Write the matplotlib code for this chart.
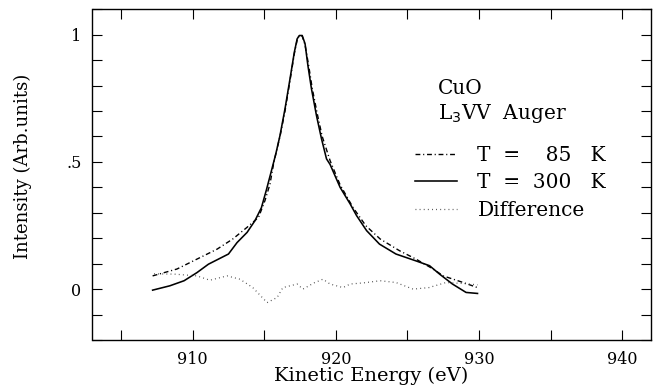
import matplotlib
matplotlib.use("Agg")
import matplotlib.pyplot as plt
from matplotlib.ticker import MultipleLocator, FixedLocator, FixedFormatter

# ---- data ----
e85 = [907.2, 908.9, 910.3, 911.7, 912.8, 913.8, 914.6, 915.05, 915.4, 915.65,
       915.8, 916.1, 916.45, 916.8, 917.1, 917.3, 917.45, 917.65, 917.85, 918.1,
       918.35, 918.7, 919.05, 919.6, 920.3, 921.2, 922.1, 923.1, 924.45, 925.6,
       926.8, 927.5, 928.9, 929.9]
i85 = [0.052, 0.079, 0.118, 0.157, 0.197, 0.243, 0.282, 0.348, 0.413, 0.492,
       0.53, 0.60, 0.70, 0.82, 0.925, 0.98, 0.997, 0.995, 0.96, 0.88,
       0.79, 0.69, 0.60, 0.505, 0.41, 0.321, 0.249, 0.197, 0.151, 0.118,
       0.079, 0.052, 0.026, 0.006]

e300 = [907.2, 908.4, 909.4, 910.3, 911.1, 911.8, 912.5, 913.1, 913.8, 914.35,
        914.8, 915.15, 915.5, 915.8, 916.1, 916.45, 916.8, 917.1, 917.3, 917.45,
        917.65, 917.85, 918.05, 918.3, 918.65, 919.0, 919.35, 919.6, 920.3, 921.0,
        921.45, 922.15, 923.05, 924.2, 925.6, 926.55, 927.25, 928.15, 929.1, 929.9]
i300 = [-0.004, 0.013, 0.033, 0.065, 0.098, 0.118, 0.138, 0.183, 0.223, 0.269,
        0.32, 0.39, 0.465, 0.53, 0.604, 0.709, 0.827, 0.931, 0.984, 0.997,
        0.997, 0.965, 0.879, 0.787, 0.682, 0.591, 0.512, 0.49, 0.40, 0.335,
        0.289, 0.23, 0.177, 0.138, 0.111, 0.092, 0.059, 0.02, -0.013, -0.017]

ediff = [907.3, 908.7, 910.3, 911.2, 912.4, 913.3, 914.2, 915.2, 915.9, 916.3,
         917.3, 917.7, 918.5, 919.1, 919.6, 920.5, 921.0, 922.0, 923.1, 924.2,
         925.4, 926.5, 927.7, 928.9, 929.9]
idiff = [0.06, 0.059, 0.052, 0.035, 0.052, 0.039, 0.006, -0.053, -0.033, 0.006,
         0.02, 0.0, 0.025, 0.039, 0.02, 0.006, 0.02, 0.025, 0.033, 0.026,
         0.0, 0.006, 0.026, 0.022, 0.017]

xticks = [910, 920, 930, 940]
xticklabels = ["910", "920", "930", "940"]
yticks = [0, 0.5, 1]
yticklabels = ["0", ".5", "1"]

labels = ["T  =    85   K", "T  =  300   K", "Difference"]

plt.rcParams["font.family"] = ["DejaVu Serif"]

fig = plt.figure(figsize=(6.56, 3.89), dpi=100)
ax = fig.add_axes([92.5 / 656, 49 / 389, 558.2 / 656, 330.7 / 389])

l1, = ax.plot(e85, i85, color="black", lw=1.0, linestyle=(0, (3.5, 2.0, 0.8, 2.0)))
l2, = ax.plot(e300, i300, color="black", lw=1.15, linestyle="-")
l3, = ax.plot(ediff, idiff, color="#444444", lw=0.9, linestyle=(0, (0.7, 2.6)))

ax.set_xlim(903, 942)
ax.set_ylim(-0.2, 1.1)

ax.xaxis.set_major_locator(FixedLocator(xticks))
ax.xaxis.set_major_formatter(FixedFormatter(xticklabels))
ax.xaxis.set_minor_locator(MultipleLocator(5))
ax.yaxis.set_major_locator(FixedLocator(yticks))
ax.yaxis.set_major_formatter(FixedFormatter(yticklabels))
ax.yaxis.set_minor_locator(MultipleLocator(0.1))

ax.tick_params(which="both", direction="in", top=True, right=True,
               length=7.5, width=0.8, labelsize=11.5, pad=8)
for s in ax.spines.values():
    s.set_linewidth(1.0)

ax.set_xlabel("Kinetic Energy (eV)", fontsize=14)
ax.xaxis.set_label_coords(0.5, -0.082)
ax.set_ylabel("Intensity (Arb.units)", fontsize=13)
ax.yaxis.set_label_coords(-0.108, 0.526)

ax.text(927.16, 0.768, "CuO", fontsize=14.5, va="baseline", ha="left")
ax.text(927.16, 0.669, r"L$_3$VV  Auger", fontsize=14.5, va="baseline", ha="left")

leg = ax.legend([l1, l2, l3], labels, loc="upper left",
                bbox_to_anchor=((415 - 92.5) / 558.2, (340 - 146) / 330.7),
                frameon=False, fontsize=14.5, handlelength=2.1, handletextpad=1.0,
                labelspacing=0.42, borderpad=0, borderaxespad=0)

fig.savefig("out.png", dpi=100)
